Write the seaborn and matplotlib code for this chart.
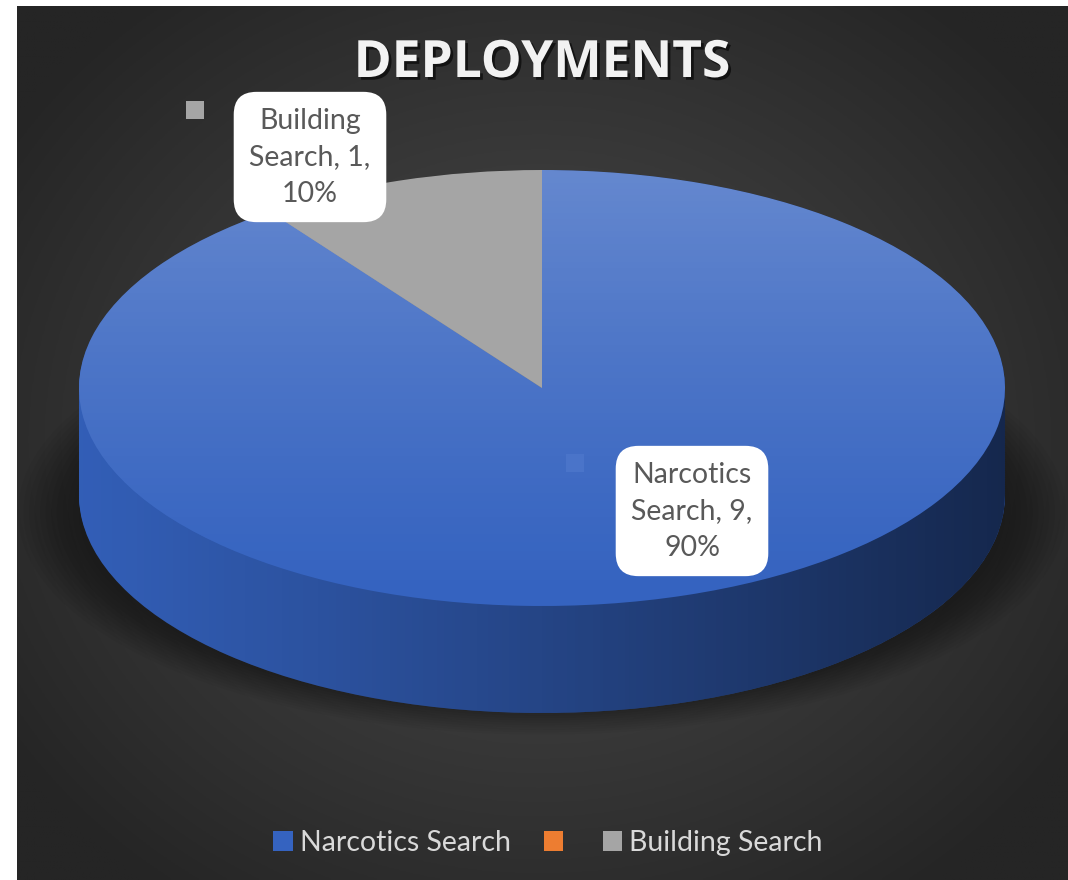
import numpy as np
import matplotlib
matplotlib.use("Agg")
import matplotlib.pyplot as plt
import matplotlib.path as mpath
import matplotlib.patheffects as pe
import seaborn as sns

# chart data
categories = ["Narcotics Search", "", "Building Search"]
counts = [9, 0, 1]
slice_colors = ["#3563c0", "#ed7d31", "#a5a5a5"]
label_texts = ["Narcotics\nSearch, 9,\n90%", None, "Building\nSearch, 1,\n10%"]

sns.set_style("white")
plt.rcParams["font.family"] = ["Lato", "DejaVu Sans"]

W, H = 1068, 880
fig = plt.figure(figsize=(W / 100, H / 100), dpi=100)
fig.patch.set_facecolor("white")

# dark radial background (white strip at left / top like the source)
bg = fig.add_axes([17 / W, 0, 1 - 17 / W, (H - 6) / H])
yy, xx = np.mgrid[0:300, 0:300]
px = 17 + xx / 299 * (W - 17)
py = 6 + yy / 299 * (H - 6)
r = np.sqrt(((px - 540) / 640) ** 2 + ((py - 440) / 560) ** 2)
v = (0x4a - (0x4a - 0x25) * np.clip(r, 0, 1) ** 1.1) / 255
bg.imshow(np.dstack([v, v, v]), aspect="auto", extent=[0, 1, 0, 1])
bg.axis("off")

ax = fig.add_axes([0, 0, 1, 1])
ax.patch.set_alpha(0)

# pixel geometry of the flattened pie
cx, cy = 542, 388
a_px, b_px = 463, 218
depth = 107 / b_px
xlim = (-cx / a_px, (W - cx) / a_px)
ylim = (-(H - cy) / b_px, cy / b_px)

def to_data(x_px, y_px):
    return (x_px - cx) / a_px, (H - y_px - (H - cy)) / b_px

# soft shadow under the pie
for k in range(12):
    s = 1.0 + k * 0.012
    ell = matplotlib.patches.Ellipse((0, -depth - 0.08), 2 * s, 2 * s * 0.9,
                                     facecolor="black", alpha=0.03, lw=0, zorder=1)
    ax.add_patch(ell)

# side wall: stacked copies of the pie
n_layers = 60
for k in range(n_layers, 0, -1):
    ax.pie(counts, colors=slice_colors, startangle=90, counterclock=False,
           center=(0, -depth * k / n_layers), radius=1,
           wedgeprops=dict(linewidth=0, zorder=2))

# shading on the side wall (darker to the right)
t = np.linspace(0, np.pi, 100)
top_arc = np.column_stack([np.cos(t), np.sin(t)])
bot_arc = np.column_stack([np.cos(t + np.pi), np.sin(t + np.pi) - depth])
capsule = mpath.Path(np.vstack([top_arc, bot_arc, top_arc[:1]]), closed=True)
gx = np.linspace(0, 1, 256)
shade = np.zeros((2, 256, 4))
shade[..., 3] = 0.05 + 0.55 * gx ** 1.1
im = ax.imshow(shade, extent=[-1, 1, -1 - depth, 1], aspect="auto", zorder=3)
im.set_clip_path(capsule, ax.transData)

# top face
wedges, _ = ax.pie(counts, colors=slice_colors, startangle=90, counterclock=False,
                   center=(0, 0), radius=1, wedgeprops=dict(linewidth=0, zorder=4))
for w in wedges:
    w.set_zorder(4)

# light gradient on the top face of the blue slice
gy = np.linspace(0, 1, 256)
hl = np.ones((256, 2, 4))
hl[..., 3] = (0.24 * gy ** 1.2)[:, None]
im2 = ax.imshow(hl, extent=[-1, 1, -1, 1], origin="lower", aspect="auto", zorder=5)
im2.set_clip_path(wedges[0])

# data labels with legend keys
label_pos = {0: (692, 511), 2: (310, 157)}
key_pos = {0: (575, 463), 2: (195, 110)}
key_cols = {0: "#4a74c9", 2: "#a5a5a5"}
for i, txt in enumerate(label_texts):
    if txt is None:
        continue
    lx, ly = to_data(*label_pos[i])
    ax.text(lx, ly, txt, ha="center", va="center", fontsize=20.5, color="#595959",
            linespacing=1.5, zorder=10,
            bbox=dict(boxstyle="round,pad=0.55,rounding_size=0.8",
                      facecolor="white", edgecolor="none"))
    kx, ky = to_data(*key_pos[i])
    ax.plot([kx], [ky], marker="s", markersize=12.5, color=key_cols[i],
            markeredgewidth=0, zorder=9)

ax.set_aspect("auto")
ax.set_xlim(*xlim)
ax.set_ylim(*ylim)
ax.axis("off")

# title
fig.text(542 / W, 1 - 64 / H, "DEPLOYMENTS", ha="center", va="center",
         fontsize=37, fontweight="bold", color="#f2f2f2", family=["Open Sans", "DejaVu Sans"],
         path_effects=[pe.withSimplePatchShadow(offset=(2, -2), shadow_rgbFace="black", alpha=0.6)])

# legend
leg = ax.legend(wedges, categories, loc="center", bbox_to_anchor=(548 / W, 1 - 843 / H),
                bbox_transform=fig.transFigure, ncol=3, frameon=False,
                fontsize=20.5, handlelength=0.68, handleheight=0.68, handletextpad=0.25,
                columnspacing=1.15, labelcolor="#d9d9d9")

fig.savefig("out.png", dpi=100, facecolor=fig.get_facecolor())
